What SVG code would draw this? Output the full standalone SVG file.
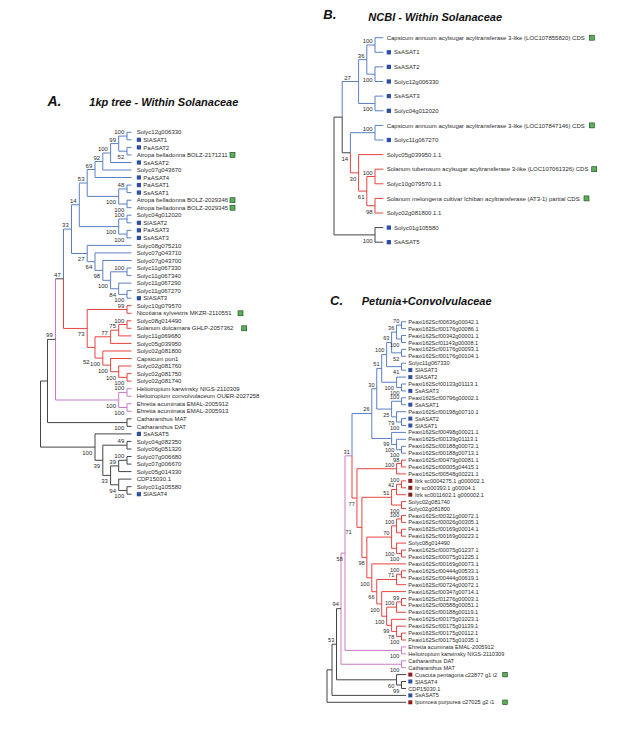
<svg xmlns="http://www.w3.org/2000/svg" width="617" height="730" viewBox="0 0 617 730">
<style>
text{font-family:"Liberation Sans",Arial,sans-serif;fill:#2b2b2b}
.t6{font-size:6px}.t56{font-size:5.6px}
.e6{font-size:6px;text-anchor:end}.e56{font-size:5.6px;text-anchor:end}
.m6{font-size:6px;text-anchor:middle}.m56{font-size:5.6px;text-anchor:middle}
.ttl{font-size:11px;font-weight:bold;font-style:italic;fill:#111}
.pl{font-size:13px;font-weight:bold;font-style:italic;fill:#111}
path{fill:none;stroke-width:1}
.b{stroke:#5b7fc4}.r{stroke:#e8433f}.p{stroke:#c97ac9}.k{stroke:#444}
.sq{fill:#2f4fa6}.dr{fill:#8b1c1c}.gr{fill:#58b158;stroke:#1e3d1e;stroke-width:0.6}
</style>
<rect width="617" height="730" fill="#fff"/>

<!-- ================= PANEL A ================= -->
<text class="pl" x="47.5" y="106" style="font-size:14px">A.</text>
<text class="ttl" x="89.3" y="106">1kp tree - Within Solanaceae</text>
<g id="A-connectors">
<path class="b" d="M131.5,132.3H127V139.8H131.5M131.5,147.4H127V154.9H131.5M127,136.1H118.7V151.2H127M118.7,143.6H110.6V162.5H131.5M110.6,153H102.8V170H131.5M102.8,161.5H95V177.5H131.5M131.5,185.1H127V192.6H131.5M131.5,200.2H127V207.7H131.5M127,188.9H118.7V204H127M95,169.5H87.2V196.4H118.7M131.5,215.2H127V222.8H131.5M131.5,230.3H127V237.9H131.5M127,219H118.7V234.1H127M87.2,183H79.3V226.6H118.7"/>
<path class="b" d="M131.5,268H127V275.6H131.5M131.5,290.6H127V298.2H131.5M131.5,283.1H118.7V294.4H127M127,271.8H110.6V288.75H118.7M131.5,260.5H102.8V280.3H110.6M131.5,252.9H95V270.4H102.8M131.5,245.4H87.2V261.65H95M79.3,204.75H71.5V253.5H87.2M71.5,229.1H63.5V278.8"/>
<path class="r" d="M131.5,305.7H127V313.3H131.5M131.5,320.8H127V328.3H131.5M127,324.55H118.7V335.9H131.5M118.7,330.2H110.6V343.4H131.5M131.5,373.6H127V381.1H131.5M131.5,366H118.7V377.35H127M131.5,358.5H110.6V371.7H118.7M131.5,351H102.8V365.1H110.6M110.6,336.8H95V358.05H102.8M127,309.5H87.2V347.4H95M63.5,278.8V328.45H87.2"/>
<path class="p" d="M55.5,278.8V400H118.7M131.5,388.7H127V396.2H131.5M131.5,403.7H127V411.3H131.5M127,392.45H118.7V407.5H127"/>
<path class="k" d="M63.5,278.8H55.5M55.5,339.4H47.5V422.6H127M131.5,418.8H127V426.4H131.5M47.5,381H40.5V447.1H95M131.5,441.4H127V449H131.5M131.5,456.5H127V464.1H131.5M127,460.3H118.7V471.6H131.5M131.5,486.7H127V494.2H131.5M131.5,479.1H118.7V490.45H127M118.7,465.95H110.6V484.8H118.7M127,445.2H102.8V475.4H110.6M131.5,433.9H95V460.3H102.8"/>
</g>
<g id="A-leaves">
<g id="A-L1"><text class="t6" x="136.7" y="134.4">Solyc12g006330</text></g>
<g id="A-L2"><rect class="sq" x="136.8" y="137.7" width="4.2" height="4.2"/><text class="t6" x="143.3" y="141.9">SlASAT1</text></g>
<g id="A-L3"><rect class="sq" x="136.8" y="145.3" width="4.2" height="4.2"/><text class="t6" x="143.3" y="149.5">PaASAT2</text></g>
<g id="A-L4"><text class="t6" x="136.7" y="157">Atropa belladonna BOLZ-2171211</text><rect class="gr" x="230" y="152.4" width="5" height="5"/></g>
<g id="A-L5"><rect class="sq" x="136.8" y="160.4" width="4.2" height="4.2"/><text class="t6" x="143.3" y="164.6">SsASAT2</text></g>
<g id="A-L6"><text class="t6" x="136.7" y="172.1">Solyc07g043670</text></g>
<g id="A-L7"><rect class="sq" x="136.8" y="175.4" width="4.2" height="4.2"/><text class="t6" x="143.3" y="179.6">PaASAT4</text></g>
<g id="A-L8"><rect class="sq" x="136.8" y="183" width="4.2" height="4.2"/><text class="t6" x="143.3" y="187.2">PaASAT1</text></g>
<g id="A-L9"><rect class="sq" x="136.8" y="190.5" width="4.2" height="4.2"/><text class="t6" x="143.3" y="194.7">SsASAT1</text></g>
<g id="A-L10"><text class="t6" x="136.7" y="202.3">Atropa belladonna BOLZ-2029346</text><rect class="gr" x="230" y="197.7" width="5" height="5"/></g>
<g id="A-L11"><text class="t6" x="136.7" y="209.8">Atropa belladonna BOLZ-2029345</text><rect class="gr" x="230" y="205.2" width="5" height="5"/></g>
<g id="A-L12"><text class="t6" x="136.7" y="217.3">Solyc04g012020</text></g>
<g id="A-L13"><rect class="sq" x="136.8" y="220.7" width="4.2" height="4.2"/><text class="t6" x="143.3" y="224.9">SlASAT2</text></g>
<g id="A-L14"><rect class="sq" x="136.8" y="228.2" width="4.2" height="4.2"/><text class="t6" x="143.3" y="232.4">PaASAT3</text></g>
<g id="A-L15"><rect class="sq" x="136.8" y="235.8" width="4.2" height="4.2"/><text class="t6" x="143.3" y="240">SsASAT3</text></g>
<g id="A-L16"><text class="t6" x="136.7" y="247.5">Solyc08g075210</text></g>
<g id="A-L17"><text class="t6" x="136.7" y="255">Solyc07g043710</text></g>
<g id="A-L18"><text class="t6" x="136.7" y="262.6">Solyc07g043700</text></g>
<g id="A-L19"><text class="t6" x="136.7" y="270.1">Solyc11g067330</text></g>
<g id="A-L20"><text class="t6" x="136.7" y="277.7">Solyc11g067340</text></g>
<g id="A-L21"><text class="t6" x="136.7" y="285.2">Solyc11g067290</text></g>
<g id="A-L22"><text class="t6" x="136.7" y="292.7">Solyc11g067270</text></g>
<g id="A-L23"><rect class="sq" x="136.8" y="296.1" width="4.2" height="4.2"/><text class="t6" x="143.3" y="300.3">SlASAT3</text></g>
<g id="A-L24"><text class="t6" x="136.7" y="307.8">Solyc10g079570</text></g>
<g id="A-L25"><text class="t6" x="136.7" y="315.4">Nicotiana sylvestris MKZR-2110551</text><rect class="gr" x="238" y="310.8" width="5" height="5"/></g>
<g id="A-L26"><text class="t6" x="136.7" y="322.9">Solyc08g014490</text></g>
<g id="A-L27"><text class="t6" x="136.7" y="330.4">Solanum dulcamara GHLP-2057362</text><rect class="gr" x="241.7" y="325.8" width="5" height="5"/></g>
<g id="A-L28"><text class="t6" x="136.7" y="338">Solyc11g069680</text></g>
<g id="A-L29"><text class="t6" x="136.7" y="345.5">Solyc05g039950</text></g>
<g id="A-L30"><text class="t6" x="136.7" y="353.1">Solyc02g081800</text></g>
<g id="A-L31"><text class="t6" x="136.7" y="360.6">Capsicum pun1</text></g>
<g id="A-L32"><text class="t6" x="136.7" y="368.1">Solyc02g081760</text></g>
<g id="A-L33"><text class="t6" x="136.7" y="375.7">Solyc02g081750</text></g>
<g id="A-L34"><text class="t6" x="136.7" y="383.2">Solyc02g081740</text></g>
<g id="A-L35"><text class="t6" x="136.7" y="390.8">Heliotropium karwinsky NIGS-2110309</text></g>
<g id="A-L36"><text class="t6" x="136.7" y="398.3">Heliotropium convolvulaceum OUER-2027258</text></g>
<g id="A-L37"><text class="t6" x="136.7" y="405.8">Ehretia acuminata EMAL-2005912</text></g>
<g id="A-L38"><text class="t6" x="136.7" y="413.4">Ehretia acuminata EMAL-2005913</text></g>
<g id="A-L39"><text class="t6" x="136.7" y="420.9">Catharanthus MAT</text></g>
<g id="A-L40"><text class="t6" x="136.7" y="428.5">Catharanthus DAT</text></g>
<g id="A-L41"><rect class="sq" x="136.8" y="431.8" width="4.2" height="4.2"/><text class="t6" x="143.3" y="436">SsASAT5</text></g>
<g id="A-L42"><text class="t6" x="136.7" y="443.5">Solyc04g082350</text></g>
<g id="A-L43"><text class="t6" x="136.7" y="451.1">Solyc06g051320</text></g>
<g id="A-L44"><text class="t6" x="136.7" y="458.6">Solyc07g006680</text></g>
<g id="A-L45"><text class="t6" x="136.7" y="466.2">Solyc07g006670</text></g>
<g id="A-L46"><text class="t6" x="136.7" y="473.7">Solyc05g014330</text></g>
<g id="A-L47"><text class="t6" x="136.7" y="481.2">CDP15030.1</text></g>
<g id="A-L48"><text class="t6" x="136.7" y="488.8">Solyc01g105580</text></g>
<g id="A-L49"><rect class="sq" x="136.8" y="492.1" width="4.2" height="4.2"/><text class="t6" x="143.3" y="496.3">SlASAT4</text></g>
</g>
<g id="A-internal">
<g id="A-n1"><text class="e6" x="124.3" y="134.05">100</text></g>
<g id="A-n2"><text class="e6" x="124.3" y="158.95">52</text></g>
<g id="A-n3"><text class="e6" x="116" y="141.6">99</text></g>
<g id="A-n4"><text class="e6" x="107.9" y="151.05">100</text></g>
<g id="A-n5"><text class="e6" x="100.1" y="159.5">92</text></g>
<g id="A-n6"><text class="e6" x="92.3" y="167.5">69</text></g>
<g id="A-n7"><text class="e6" x="124.3" y="186.85">48</text></g>
<g id="A-n8"><text class="e6" x="124.3" y="211.75">100</text></g>
<g id="A-n9"><text class="e6" x="116" y="204.2">100</text></g>
<g id="A-n10"><text class="e6" x="84.5" y="180.95">53</text></g>
<g id="A-n11"><text class="e6" x="124.3" y="217">100</text></g>
<g id="A-n12"><text class="e6" x="124.3" y="241.9">100</text></g>
<g id="A-n13"><text class="e6" x="116" y="234.35">100</text></g>
<g id="A-n14"><text class="e6" x="76.6" y="202.75">14</text></g>
<g id="A-n15"><text class="e6" x="124.3" y="269.8">100</text></g>
<g id="A-n16"><text class="e6" x="124.3" y="302.2">100</text></g>
<g id="A-n17"><text class="e6" x="116" y="296.55">84</text></g>
<g id="A-n18"><text class="e6" x="107.9" y="288.1">100</text></g>
<g id="A-n19"><text class="e6" x="100.1" y="278.2">98</text></g>
<g id="A-n20"><text class="e6" x="92.3" y="269.45">64</text></g>
<g id="A-n21"><text class="e6" x="84.5" y="261.3">27</text></g>
<g id="A-n22"><text class="e6" x="68.8" y="227.1">33</text></g>
<g id="A-n23"><text class="e6" x="124.3" y="307.5">99</text></g>
<g id="A-n24"><text class="e6" x="124.3" y="322.55">100</text></g>
<g id="A-n25"><text class="e6" x="116" y="328.2">75</text></g>
<g id="A-n26"><text class="e6" x="107.9" y="334.8">77</text></g>
<g id="A-n27"><text class="e6" x="124.3" y="385.15">100</text></g>
<g id="A-n28"><text class="e6" x="116" y="379.5">100</text></g>
<g id="A-n29"><text class="e6" x="107.9" y="372.9">100</text></g>
<g id="A-n30"><text class="e6" x="100.1" y="365.85">100</text></g>
<g id="A-n31"><text class="e6" x="89.6" y="363.6">52</text></g>
<g id="A-n32"><text class="e6" x="84.5" y="336.25">73</text></g>
<g id="A-n33"><text class="e6" x="60.8" y="276.8">47</text></g>
<g id="A-n34"><text class="e6" x="124.3" y="390.45">100</text></g>
<g id="A-n35"><text class="e6" x="124.3" y="415.3">100</text></g>
<g id="A-n36"><text class="e6" x="116" y="407.8">100</text></g>
<g id="A-n37"><text class="e6" x="52.8" y="337.4">99</text></g>
<g id="A-n38"><text class="e6" x="124.3" y="430.4">100</text></g>
<g id="A-n39"><text class="e6" x="124.3" y="443.2">49</text></g>
<g id="A-n40"><text class="e6" x="124.3" y="458.3">100</text></g>
<g id="A-n41"><text class="e6" x="116" y="463.95">39</text></g>
<g id="A-n42"><text class="e6" x="124.3" y="498.25">100</text></g>
<g id="A-n43"><text class="e6" x="116" y="492.6">94</text></g>
<g id="A-n44"><text class="e6" x="107.9" y="483.2">33</text></g>
<g id="A-n45"><text class="e6" x="100.1" y="468.1">39</text></g>
<g id="A-n46"><text class="e6" x="92.3" y="454.9">100</text></g>
</g>

<!-- ================= PANEL B ================= -->
<text class="pl" x="323.3" y="18.5">B.</text>
<text class="ttl" x="368.3" y="20.6">NCBI - Within Solanaceae</text>
<g id="B-connectors">
<path class="b" d="M383.3,37.7H375V52.3H383.3M383.3,66.9H375V81.5H383.3M375,45H366.8V74.2H375M383.3,96.1H375V110.8H383.3M366.8,59.6H358.6V103.45H375M358.6,81.5H342.2V117.14M383.3,125.4H375V140H383.3M375,132.7H350.4V152.78"/>
<path class="r" d="M383.3,169.2H375V183.8H383.3M383.3,198.4H375V213H383.3M375,176.5H366.8V205.7H375M383.3,154.6H358.6V191.1H366.8M350.4,152.78V172.85H358.6"/>
<path class="k" d="M342.2,117.14V152.78H350.4M342.2,117.14H334V234.9H375M383.3,227.6H375V242.2H383.3"/>
</g>
<g id="B-leaves">
<g id="B-L1"><text class="t6" x="386.7" y="39.8">Capsicum annuum acylsugar acyltransferase 3-like (LOC107855820) CDS</text><rect class="gr" x="589.3" y="35.2" width="5" height="5"/></g>
<g id="B-L2"><rect class="sq" x="386.7" y="50.15" width="4.3" height="4.3"/><text class="t6" x="394" y="54.4">SsASAT1</text></g>
<g id="B-L3"><rect class="sq" x="386.7" y="64.75" width="4.3" height="4.3"/><text class="t6" x="394" y="69">SsASAT2</text></g>
<g id="B-L4"><rect class="sq" x="386.7" y="79.35" width="4.3" height="4.3"/><text class="t6" x="394" y="83.6">Solyc12g006330</text></g>
<g id="B-L5"><rect class="sq" x="386.7" y="93.95" width="4.3" height="4.3"/><text class="t6" x="394" y="98.2">SsASAT3</text></g>
<g id="B-L6"><rect class="sq" x="386.7" y="108.65" width="4.3" height="4.3"/><text class="t6" x="394" y="112.9">Solyc04g012020</text></g>
<g id="B-L7"><text class="t6" x="386.7" y="127.5">Capsicum annuum acylsugar acyltransferase 3-like (LOC107847146) CDS</text><rect class="gr" x="589.3" y="122.9" width="5" height="5"/></g>
<g id="B-L8"><rect class="sq" x="386.7" y="137.85" width="4.3" height="4.3"/><text class="t6" x="394" y="142.1">Solyc11g067270</text></g>
<g id="B-L9"><text class="t6" x="386.7" y="156.7">Solyc05g039950.1.1</text></g>
<g id="B-L10"><text class="t6" x="386.7" y="171.3">Solanum tuberosum acylsugar acyltransferase 3-like (LOC107061326) CDS</text><rect class="gr" x="591.7" y="166.7" width="5" height="5"/></g>
<g id="B-L11"><text class="t6" x="386.7" y="185.9">Solyc10g079570.1.1</text></g>
<g id="B-L12"><text class="t6" x="386.7" y="200.5">Solanum melongena cultivar Ichiban acyltransferase (AT3-1) partial CDS</text><rect class="gr" x="584" y="195.9" width="5" height="5"/></g>
<g id="B-L13"><text class="t6" x="386.7" y="215.1">Solyc02g081800.1.1</text></g>
<g id="B-L14"><rect class="sq" x="386.7" y="225.45" width="4.3" height="4.3"/><text class="t6" x="394" y="229.7">Solyc01g105580</text></g>
<g id="B-L15"><rect class="sq" x="386.7" y="240.05" width="4.3" height="4.3"/><text class="t6" x="394" y="244.3">SsASAT5</text></g>
</g>
<g id="B-internal">
<g id="B-n1"><text class="e6" x="372.7" y="43">100</text></g>
<g id="B-n2"><text class="e6" x="372.7" y="82.2">100</text></g>
<g id="B-n3"><text class="e6" x="364.5" y="57.6">36</text></g>
<g id="B-n4"><text class="e6" x="372.7" y="111.45">100</text></g>
<g id="B-n5"><text class="m6" x="347.5" y="79.5">27</text></g>
<g id="B-n6"><text class="e6" x="372.7" y="130.7">100</text></g>
<g id="B-n7"><text class="e6" x="348.1" y="160.8">14</text></g>
<g id="B-n8"><text class="e6" x="356.3" y="180.85">30</text></g>
<g id="B-n9"><text class="e6" x="372.7" y="174.5">100</text></g>
<g id="B-n10"><text class="e6" x="364.5" y="199.1">61</text></g>
<g id="B-n11"><text class="e6" x="372.7" y="213.7">98</text></g>
<g id="B-n12"><text class="e6" x="372.7" y="242.9">100</text></g>
</g>

<!-- ================= PANEL C ================= -->
<text class="pl" x="330" y="305.2">C.</text>
<text class="ttl" x="361.7" y="304.8">Petunia+Convolvulaceae</text>
<g id="C-connectors">
<path class="b" d="M406,321.7H401.5V328.6H406M406,335.5H401.5V342.5H406M401.5,325.15H396.55V339H401.5M406,349.4H401.5V356.3H406M396.55,332.08H391.6V352.85H401.5M406,363.2H401.5V370.1H406M391.6,342.47H386.65V366.65H401.5M406,384H401.5V390.9H406M406,377.1H396.55V387.45H401.5M386.65,354.56H381.7V382.28H396.55M406,397.8H401.5V404.7H406M406,418.6H401.5V425.5H406M406,411.7H396.55V422.05H401.5M401.5,401.25H391.6V416.88H396.55M381.7,368.42H376.75V409.07H391.6M406,446.3H401.5V453.2H406M406,439.3H396.55V449.75H401.5M406,432.4H391.6V444.53H396.55M376.75,388.74H371.8V438.46H391.6M371.8,413.6H352V455.83"/>
<path class="r" d="M352,455.83V498.05H356.95M406,460.1H401.5V467H406M401.5,463.55H396.55V473.9H406M406,480.9H401.5V487.8H406M401.5,484.35H396.55V494.7H406M406,501.6H401.5V508.5H406M396.55,489.53H391.6V505.05H401.5M406,515.5H401.5V522.4H406M406,529.3H401.5V536.2H406M401.5,518.95H396.55V532.75H401.5M406,550.1H401.5V557H406M406,543.1H396.55V553.55H401.5M396.55,525.85H391.6V548.33H396.55M406,570.8H401.5V577.7H406M401.5,574.25H396.55V584.7H406M406,598.5H401.5V605.4H406M401.5,601.95H396.55V612.3H406M406,633.1H401.5V640H406M406,626.2H396.55V636.55H401.5M406,619.3H391.6V631.38H396.55M396.55,607.13H386.65V625.34H391.6M406,591.6H381.7V616.24H386.65M396.55,579.48H376.75V603.92H381.7M406,563.9H371.8V591.7H376.75M391.6,537.09H366.85V577.8H371.8M391.6,497.29H361.9V557.45H366.85M396.55,468.73H356.95V527.37H361.9"/>
<path class="p" d="M352,455.83H345V650.4H401.5M406,646.9H401.5V653.9H406M345,553.12H341V664.25H401.5M406,660.8H401.5V667.7H406"/>
<path class="k" d="M341,608.68H336.5V679.8H396.55M406,681.5H401.5V688.5H406M406,674.6H396.55V685H401.5M336.5,644.24H332V695.4H406M332,669.82H327V702.3H406"/>
</g>
<g id="C-leaves">
<g id="C-L1"><text class="t56" x="408.3" y="323.7">Peaxi162Scf00636g00042.1</text></g>
<g id="C-L2"><text class="t56" x="408.3" y="330.6">Peaxi162Scf00176g00086.1</text></g>
<g id="C-L3"><text class="t56" x="408.3" y="337.5">Peaxi162Scf00342g00001.1</text></g>
<g id="C-L4"><text class="t56" x="408.3" y="344.5">Peaxi162Scf01143g00008.1</text></g>
<g id="C-L5"><text class="t56" x="408.3" y="351.4">Peaxi162Scf00176g00093.1</text></g>
<g id="C-L6"><text class="t56" x="408.3" y="358.3">Peaxi162Scf00176g00104.1</text></g>
<g id="C-L7"><text class="t56" x="408.3" y="365.2">Solyc11g067330</text></g>
<g id="C-L8"><rect class="sq" x="408.3" y="368.1" width="4" height="4"/><text class="t56" x="415" y="372.1">SlASAT3</text></g>
<g id="C-L9"><rect class="sq" x="408.3" y="375.1" width="4" height="4"/><text class="t56" x="415" y="379.1">SlASAT2</text></g>
<g id="C-L10"><text class="t56" x="408.3" y="386">Peaxi162Scf00133g01113.1</text></g>
<g id="C-L11"><rect class="sq" x="408.3" y="388.9" width="4" height="4"/><text class="t56" x="415" y="392.9">SsASAT3</text></g>
<g id="C-L12"><text class="t56" x="408.3" y="399.8">Peaxi162Scf00796g00002.1</text></g>
<g id="C-L13"><rect class="sq" x="408.3" y="402.7" width="4" height="4"/><text class="t56" x="415" y="406.7">SsASAT1</text></g>
<g id="C-L14"><text class="t56" x="408.3" y="413.7">Peaxi162Scf00198g00710.1</text></g>
<g id="C-L15"><rect class="sq" x="408.3" y="416.6" width="4" height="4"/><text class="t56" x="415" y="420.6">SsASAT2</text></g>
<g id="C-L16"><rect class="sq" x="408.3" y="423.5" width="4" height="4"/><text class="t56" x="415" y="427.5">SlASAT1</text></g>
<g id="C-L17"><text class="t56" x="408.3" y="434.4">Peaxi162Scf00498g00021.1</text></g>
<g id="C-L18"><text class="t56" x="408.3" y="441.3">Peaxi162Scf00139g01113.1</text></g>
<g id="C-L19"><text class="t56" x="408.3" y="448.3">Peaxi162Scf00188g00072.1</text></g>
<g id="C-L20"><text class="t56" x="408.3" y="455.2">Peaxi162Scf00188g00713.1</text></g>
<g id="C-L21"><text class="t56" x="408.3" y="462.1">Peaxi162Scf00479g00081.1</text></g>
<g id="C-L22"><text class="t56" x="408.3" y="469">Peaxi162Scf00005g04415.1</text></g>
<g id="C-L23"><text class="t56" x="408.3" y="475.9">Peaxi162Scf00548g00221.1</text></g>
<g id="C-L24"><rect class="dr" x="408.3" y="478.9" width="4" height="4"/><text class="t56" x="415" y="482.9">Itrk sc0004275.1 g000002.1</text></g>
<g id="C-L25"><rect class="dr" x="408.3" y="485.8" width="4" height="4"/><text class="t56" x="415" y="489.8">Itr sc000393.1 g00004.1</text></g>
<g id="C-L26"><rect class="dr" x="408.3" y="492.7" width="4" height="4"/><text class="t56" x="415" y="496.7">Itrk sc0011602.1 g000002.1</text></g>
<g id="C-L27"><text class="t56" x="408.3" y="503.6">Solyc02g081740</text></g>
<g id="C-L28"><text class="t56" x="408.3" y="510.5">Solyc02g081800</text></g>
<g id="C-L29"><text class="t56" x="408.3" y="517.5">Peaxi162Scf00321g00072.1</text></g>
<g id="C-L30"><text class="t56" x="408.3" y="524.4">Peaxi162Scf00026g00305.1</text></g>
<g id="C-L31"><text class="t56" x="408.3" y="531.3">Peaxi162Scf00169g00014.1</text></g>
<g id="C-L32"><text class="t56" x="408.3" y="538.2">Peaxi162Scf00169g00223.1</text></g>
<g id="C-L33"><text class="t56" x="408.3" y="545.1">Solyc08g014490</text></g>
<g id="C-L34"><text class="t56" x="408.3" y="552.1">Peaxi162Scf00075g01237.1</text></g>
<g id="C-L35"><text class="t56" x="408.3" y="559">Peaxi162Scf00075g01225.1</text></g>
<g id="C-L36"><text class="t56" x="408.3" y="565.9">Peaxi162Scf00169g00073.1</text></g>
<g id="C-L37"><text class="t56" x="408.3" y="572.8">Peaxi162Scf00444g00533.1</text></g>
<g id="C-L38"><text class="t56" x="408.3" y="579.7">Peaxi162Scf00444g00619.1</text></g>
<g id="C-L39"><text class="t56" x="408.3" y="586.7">Peaxi162Scf00724g00072.1</text></g>
<g id="C-L40"><text class="t56" x="408.3" y="593.6">Peaxi162Scf00347g00714.1</text></g>
<g id="C-L41"><text class="t56" x="408.3" y="600.5">Peaxi162Scf01276g00003.1</text></g>
<g id="C-L42"><text class="t56" x="408.3" y="607.4">Peaxi162Scf00588g00051.1</text></g>
<g id="C-L43"><text class="t56" x="408.3" y="614.3">Peaxi162Scf00188g00119.1</text></g>
<g id="C-L44"><text class="t56" x="408.3" y="621.3">Peaxi162Scf00175g01023.1</text></g>
<g id="C-L45"><text class="t56" x="408.3" y="628.2">Peaxi162Scf00175g01139.1</text></g>
<g id="C-L46"><text class="t56" x="408.3" y="635.1">Peaxi162Scf00175g00112.1</text></g>
<g id="C-L47"><text class="t56" x="408.3" y="642">Peaxi162Scf00175g01035.1</text></g>
<g id="C-L48"><text class="t56" x="408.3" y="648.9">Ehretia acuminata EMAL-2005912</text></g>
<g id="C-L49"><text class="t56" x="408.3" y="655.9">Heliotropium karwinsky NIGS-2110309</text></g>
<g id="C-L50"><text class="t56" x="408.3" y="662.8">Catharanthus DAT</text></g>
<g id="C-L51"><text class="t56" x="408.3" y="669.7">Catharanthus MAT</text></g>
<g id="C-L52"><rect class="dr" x="408.3" y="672.6" width="4" height="4"/><text class="t56" x="415" y="676.6">Cuscuta pentagona c22877 g1 i2</text><rect class="gr" x="502.7" y="672.3" width="4.6" height="4.6"/></g>
<g id="C-L53"><rect class="sq" x="408.3" y="679.5" width="4" height="4"/><text class="t56" x="415" y="683.5">SlASAT4</text></g>
<g id="C-L54"><text class="t56" x="408.3" y="690.5">CDP15030.1</text></g>
<g id="C-L55"><rect class="sq" x="408.3" y="693.4" width="4" height="4"/><text class="t56" x="415" y="697.4">SsASAT5</text></g>
<g id="C-L56"><rect class="dr" x="408.3" y="700.3" width="4" height="4"/><text class="t56" x="415" y="704.3">Ipomoea purpurea c27025 g2 i1</text><rect class="gr" x="502.7" y="700" width="4.6" height="4.6"/></g>
</g>
<g id="C-internal">
<g id="C-n1"><text class="e56" x="399.3" y="322.95">70</text></g>
<g id="C-n2"><text class="e56" x="399.3" y="346.7">100</text></g>
<g id="C-n3"><text class="e56" x="394.35" y="329.88">36</text></g>
<g id="C-n4"><text class="e56" x="399.3" y="360.55">52</text></g>
<g id="C-n5"><text class="e56" x="389.4" y="340.27">63</text></g>
<g id="C-n6"><text class="e56" x="399.3" y="374.35">41</text></g>
<g id="C-n7"><text class="e56" x="384.45" y="352.36">100</text></g>
<g id="C-n8"><text class="e56" x="379.5" y="366.22">51</text></g>
<g id="C-n9"><text class="e56" x="393.8" y="389.6">100</text></g>
<g id="C-n10"><text class="e56" x="399.3" y="394.6">100</text></g>
<g id="C-n11"><text class="e56" x="399.3" y="399.4">100</text></g>
<g id="C-n12"><text class="e56" x="374.55" y="386.54">30</text></g>
<g id="C-n13"><text class="e56" x="389.4" y="416.77">25</text></g>
<g id="C-n14"><text class="e56" x="394.35" y="424.58">79</text></g>
<g id="C-n15"><text class="e56" x="399.3" y="429.75">100</text></g>
<g id="C-n16"><text class="e56" x="369.6" y="411.4">26</text></g>
<g id="C-n17"><text class="e56" x="389.4" y="446.16">99</text></g>
<g id="C-n18"><text class="e56" x="394.35" y="452.23">100</text></g>
<g id="C-n19"><text class="e56" x="399.3" y="457.2">100</text></g>
<g id="C-n20"><text class="e56" x="349.8" y="453.63">31</text></g>
<g id="C-n21"><text class="e56" x="399.3" y="461.9">98</text></g>
<g id="C-n22"><text class="e56" x="394.35" y="466.53">100</text></g>
<g id="C-n23"><text class="e56" x="399.3" y="482.15">100</text></g>
<g id="C-n24"><text class="e56" x="394.35" y="487.33">42</text></g>
<g id="C-n25"><text class="e56" x="389.4" y="495.09">51</text></g>
<g id="C-n26"><text class="e56" x="399.3" y="512.5">100</text></g>
<g id="C-n27"><text class="e56" x="354.75" y="505.75">77</text></g>
<g id="C-n28"><text class="e56" x="399.3" y="517.2">100</text></g>
<g id="C-n29"><text class="e56" x="394.35" y="523.65">100</text></g>
<g id="C-n30"><text class="e56" x="389.4" y="534.89">70</text></g>
<g id="C-n31"><text class="m56" x="348.6" y="534.2">71</text></g>
<g id="C-n32"><text class="e56" x="394.35" y="556.03">100</text></g>
<g id="C-n33"><text class="e56" x="399.3" y="561.25">100</text></g>
<g id="C-n34"><text class="e56" x="342.8" y="560.82">58</text></g>
<g id="C-n35"><text class="e56" x="364.65" y="565.15">98</text></g>
<g id="C-n36"><text class="e56" x="399.3" y="572.05">100</text></g>
<g id="C-n37"><text class="e56" x="394.35" y="577.28">71</text></g>
<g id="C-n38"><text class="e56" x="369.6" y="585.5">100</text></g>
<g id="C-n39"><text class="e56" x="374.55" y="599.4">66</text></g>
<g id="C-n40"><text class="e56" x="399.3" y="599.75">99</text></g>
<g id="C-n41"><text class="e56" x="394.35" y="604.93">100</text></g>
<g id="C-n42"><text class="e56" x="379.5" y="611.62">100</text></g>
<g id="C-n43"><text class="e56" x="338.8" y="606.48">94</text></g>
<g id="C-n44"><text class="e56" x="384.45" y="623.94">100</text></g>
<g id="C-n45"><text class="e56" x="389.4" y="633.04">99</text></g>
<g id="C-n46"><text class="e56" x="394.35" y="639.08">78</text></g>
<g id="C-n47"><text class="e56" x="399.3" y="644.25">100</text></g>
<g id="C-n48"><text class="e56" x="334.3" y="642.04">53</text></g>
<g id="C-n49"><text class="e56" x="399.3" y="658.1">100</text></g>
<g id="C-n50"><text class="e56" x="399.3" y="671.95">100</text></g>
<g id="C-n51"><text class="e56" x="394.35" y="687.5">60</text></g>
<g id="C-n52"><text class="e56" x="399.3" y="692.7">99</text></g>
</g>
</svg>
